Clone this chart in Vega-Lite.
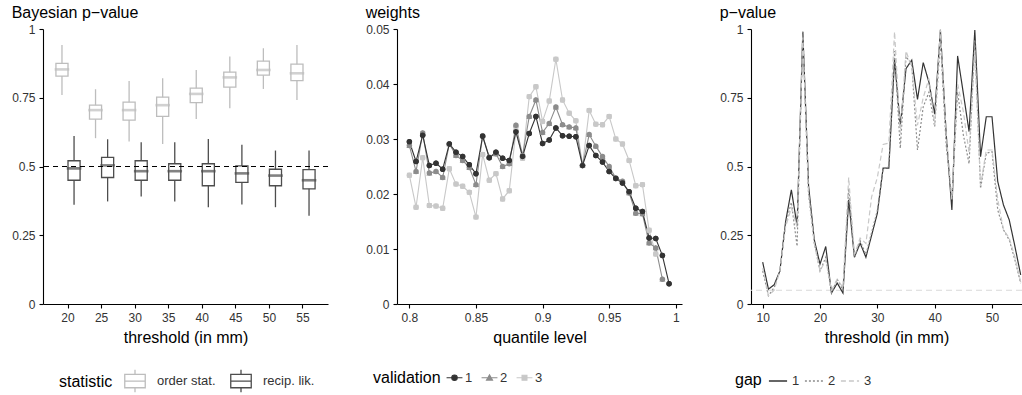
{
  "$schema": "https://vega.github.io/schema/vega-lite/v6.json",
  "padding": {"left": 11, "top": 5, "right": 0, "bottom": 0},
  "bounds": "flush",
  "spacing": 69,
  "config": {
    "view": {"stroke": null},
    "font": "Liberation Sans",
    "axis": {"grid": false, "domainColor": "black", "domainWidth": 1.1, "tickColor": "black", "tickWidth": 1.1, "tickSize": 4, "labelColor": "#333333", "labelFontSize": 12, "labelPadding": 4, "titleFontSize": 16, "titleFontWeight": "normal", "titleColor": "black", "titlePadding": 6},
    "title": {"anchor": "start", "fontSize": 16, "fontWeight": "normal", "color": "black", "offset": 2},
    "legend": {"orient": "none", "direction": "horizontal", "titleOrient": "left", "titleFontSize": 16, "titleFontWeight": "normal", "titleColor": "black", "labelFontSize": 13, "labelColor": "#333333", "titlePadding": 6, "columnPadding": 10, "labelOffset": 6}
  },
  "hconcat": [
    {
      "title": "Bayesian p−value",
      "width": 285,
      "height": 275,
      "layer": [
        {
          "data": {"values": [
            {"threshold": 20, "stat": "order stat.", "lo": 0.760, "q1": 0.829, "med": 0.853, "q3": 0.875, "hi": 0.942},
            {"threshold": 25, "stat": "order stat.", "lo": 0.603, "q1": 0.672, "med": 0.705, "q3": 0.723, "hi": 0.781},
            {"threshold": 30, "stat": "order stat.", "lo": 0.591, "q1": 0.669, "med": 0.705, "q3": 0.734, "hi": 0.811},
            {"threshold": 35, "stat": "order stat.", "lo": 0.582, "q1": 0.682, "med": 0.723, "q3": 0.752, "hi": 0.821},
            {"threshold": 40, "stat": "order stat.", "lo": 0.673, "q1": 0.732, "med": 0.764, "q3": 0.785, "hi": 0.851},
            {"threshold": 45, "stat": "order stat.", "lo": 0.712, "q1": 0.789, "med": 0.824, "q3": 0.843, "hi": 0.900},
            {"threshold": 50, "stat": "order stat.", "lo": 0.782, "q1": 0.832, "med": 0.851, "q3": 0.883, "hi": 0.930},
            {"threshold": 55, "stat": "order stat.", "lo": 0.742, "q1": 0.812, "med": 0.839, "q3": 0.872, "hi": 0.942},
            {"threshold": 20, "stat": "recip. lik.", "lo": 0.361, "q1": 0.450, "med": 0.493, "q3": 0.521, "hi": 0.611},
            {"threshold": 25, "stat": "recip. lik.", "lo": 0.373, "q1": 0.460, "med": 0.504, "q3": 0.533, "hi": 0.599},
            {"threshold": 30, "stat": "recip. lik.", "lo": 0.391, "q1": 0.450, "med": 0.483, "q3": 0.521, "hi": 0.588},
            {"threshold": 35, "stat": "recip. lik.", "lo": 0.373, "q1": 0.450, "med": 0.483, "q3": 0.510, "hi": 0.588},
            {"threshold": 40, "stat": "recip. lik.", "lo": 0.352, "q1": 0.430, "med": 0.483, "q3": 0.510, "hi": 0.600},
            {"threshold": 45, "stat": "recip. lik.", "lo": 0.362, "q1": 0.442, "med": 0.475, "q3": 0.502, "hi": 0.579},
            {"threshold": 50, "stat": "recip. lik.", "lo": 0.352, "q1": 0.430, "med": 0.467, "q3": 0.490, "hi": 0.558},
            {"threshold": 55, "stat": "recip. lik.", "lo": 0.321, "q1": 0.419, "med": 0.450, "q3": 0.489, "hi": 0.558}
          ]},
          "encoding": {
            "x": {"field": "threshold", "type": "ordinal", "scale": {"paddingInner": 0.28, "paddingOuter": 0.385}, "axis": {"labelAngle": 0, "title": "threshold (in mm)"}},
            "xOffset": {"field": "stat", "type": "nominal", "scale": {"domain": ["order stat.", "recip. lik."], "paddingInner": 0, "paddingOuter": 0}},
            "color": {"field": "stat", "type": "nominal", "scale": {"domain": ["order stat.", "recip. lik."], "range": ["#BDBDBD", "#4D4D4D"]},
              "legend": {"title": "statistic", "legendX": 16, "legendY": 341, "titlePadding": 11, "labelOffset": 11, "columnPadding": 12, "symbolSize": 420, "symbolType": "M-1,-0.65H1V0.65H-1ZM-1,0H1M0,-0.65V-1.1M0,0.65V1.1", "symbolStrokeWidth": 1.3, "symbolFillColor": "transparent",
                "encode": {"symbols": {"update": {"fill": {"value": "transparent"}, "stroke": {"signal": "datum.value == 'order stat.' ? '#BDBDBD' : '#4D4D4D'"}, "strokeWidth": {"value": 1.3}}}}}}
          },
          "layer": [
            {"mark": {"type": "bar", "filled": false, "strokeWidth": 1.3}, "encoding": {"y": {"field": "q1", "type": "quantitative", "scale": {"domain": [0, 1], "nice": false}, "axis": {"title": null, "values": [0, 0.25, 0.5, 0.75, 1], "format": ".2~f"}}, "y2": {"field": "q3"}}},
            {"mark": {"type": "rule", "strokeWidth": 1.3}, "encoding": {"y": {"field": "lo", "type": "quantitative"}, "y2": {"field": "q1"}}},
            {"mark": {"type": "rule", "strokeWidth": 1.3}, "encoding": {"y": {"field": "q3", "type": "quantitative"}, "y2": {"field": "hi"}}},
            {"mark": {"type": "tick", "filled": false, "thickness": 0.01, "strokeWidth": 2.6, "size": 12}, "encoding": {"y": {"field": "med", "type": "quantitative"}}}
          ]
        },
        {
          "data": {"values": [{"ref": 0.5}]},
          "mark": {"type": "rule", "color": "black", "strokeDash": [5, 4], "strokeWidth": 1.1},
          "encoding": {"y": {"field": "ref", "type": "quantitative"}}
        }
      ]
    },
    {
      "title": "weights",
      "width": 285,
      "height": 275,
      "data": {"values": [
        {"q": 0.800, "a": 0.0295, "b": 0.0288, "c": 0.0234},
        {"q": 0.805, "a": 0.0259, "b": 0.0241, "c": 0.0176},
        {"q": 0.810, "a": 0.0307, "b": 0.0311, "c": 0.0266},
        {"q": 0.815, "a": 0.0252, "b": 0.0238, "c": 0.0179},
        {"q": 0.820, "a": 0.0256, "b": 0.0241, "c": 0.0178},
        {"q": 0.825, "a": 0.0245, "b": 0.0230, "c": 0.0174},
        {"q": 0.830, "a": 0.0291, "b": 0.0291, "c": 0.0246},
        {"q": 0.835, "a": 0.0276, "b": 0.0270, "c": 0.0218},
        {"q": 0.840, "a": 0.0268, "b": 0.0261, "c": 0.0214},
        {"q": 0.845, "a": 0.0253, "b": 0.0248, "c": 0.0203},
        {"q": 0.850, "a": 0.0237, "b": 0.0217, "c": 0.0158},
        {"q": 0.855, "a": 0.0305, "b": 0.0306, "c": 0.0272},
        {"q": 0.860, "a": 0.0266, "b": 0.0267, "c": 0.0225},
        {"q": 0.865, "a": 0.0276, "b": 0.0273, "c": 0.0237},
        {"q": 0.870, "a": 0.0265, "b": 0.0250, "c": 0.0191},
        {"q": 0.875, "a": 0.0261, "b": 0.0255, "c": 0.0206},
        {"q": 0.880, "a": 0.0313, "b": 0.0325, "c": 0.0315},
        {"q": 0.885, "a": 0.0268, "b": 0.0270, "c": 0.0265},
        {"q": 0.890, "a": 0.0310, "b": 0.0341, "c": 0.0377},
        {"q": 0.895, "a": 0.0341, "b": 0.0371, "c": 0.0395},
        {"q": 0.900, "a": 0.0292, "b": 0.0312, "c": 0.0332},
        {"q": 0.905, "a": 0.0298, "b": 0.0328, "c": 0.0369},
        {"q": 0.910, "a": 0.0320, "b": 0.0358, "c": 0.0445},
        {"q": 0.915, "a": 0.0306, "b": 0.0326, "c": 0.0371},
        {"q": 0.920, "a": 0.0305, "b": 0.0322, "c": 0.0347},
        {"q": 0.925, "a": 0.0304, "b": 0.0320, "c": 0.0333},
        {"q": 0.930, "a": 0.0252, "b": 0.0252, "c": 0.0252},
        {"q": 0.935, "a": 0.0288, "b": 0.0308, "c": 0.0352},
        {"q": 0.940, "a": 0.0270, "b": 0.0287, "c": 0.0327},
        {"q": 0.945, "a": 0.0258, "b": 0.0268, "c": 0.0326},
        {"q": 0.950, "a": 0.0241, "b": 0.0250, "c": 0.0341},
        {"q": 0.955, "a": 0.0228, "b": 0.0229, "c": 0.0300},
        {"q": 0.960, "a": 0.0220, "b": 0.0223, "c": 0.0291},
        {"q": 0.965, "a": 0.0204, "b": 0.0202, "c": 0.0261},
        {"q": 0.970, "a": 0.0174, "b": 0.0165, "c": 0.0215},
        {"q": 0.975, "a": 0.0168, "b": 0.0164, "c": 0.0217},
        {"q": 0.980, "a": 0.0120, "b": 0.0111, "c": 0.0134},
        {"q": 0.985, "a": 0.0119, "b": 0.0102, "c": 0.0091},
        {"q": 0.990, "a": 0.0088, "b": 0.0045},
        {"q": 0.995, "a": 0.0037}
      ]},
      "transform": [
        {"fold": ["c", "b", "a"], "as": ["series", "w"]},
        {"filter": "isValid(datum.w)"},
        {"lookup": "series", "from": {"data": {"values": [{"series": "a", "validation": "1"}, {"series": "b", "validation": "2"}, {"series": "c", "validation": "3"}]}, "key": "series", "fields": ["validation"]}}
      ],
      "encoding": {
        "x": {"field": "q", "type": "quantitative", "scale": {"domain": [0.7907, 1.0047], "nice": false, "zero": false}, "axis": {"title": "quantile level", "values": [0.8, 0.85, 0.9, 0.95, 1], "format": ".2~f"}},
        "y": {"field": "w", "type": "quantitative", "scale": {"domain": [0, 0.05], "nice": false}, "axis": {"title": null, "values": [0, 0.01, 0.02, 0.03, 0.04, 0.05], "format": ".2~f"}},
        "color": {"field": "validation", "type": "nominal", "scale": {"domain": ["1", "2", "3"], "range": ["#333333", "#8C8C8C", "#C8C8C8"]}, "legend": {"title": "validation", "legendX": -24, "legendY": 342, "titlePadding": 7, "labelOffset": 4, "columnPadding": 6, "symbolSize": 30,
          "encode": {"symbols": {"update": {"stroke": {"signal": "datum.value == '1' ? '#333333' : datum.value == '2' ? '#8C8C8C' : '#C8C8C8'"}, "strokeWidth": {"value": 1.1}}}}}},
        "shape": {"field": "validation", "type": "nominal", "scale": {"domain": ["1", "2", "3"], "range": ["M-2.9,0H2.9M1,0A1,1,0,1,1,-1,0A1,1,0,1,1,1,0Z", "M-2.9,0H2.9M0,-1.05L1.1,0.85L-1.1,0.85Z", "M-2.9,0H2.9M-0.9,-0.9H0.9V0.9H-0.9Z"]}, "legend": {"title": "validation", "legendX": -24, "legendY": 342}},
        "detail": {"field": "validation"}
      },
      "layer": [
        {"mark": {"type": "line", "strokeWidth": 1.1}, "encoding": {"shape": {"value": null}}},
        {"mark": {"type": "point", "filled": true, "size": 30, "strokeWidth": 0, "opacity": 1}}
      ]
    },
    {
      "title": "p−value",
      "width": 271,
      "height": 275,
      "layer": [
        {
          "data": {"values": [{"ref": 0.05}]},
          "mark": {"type": "rule", "color": "#D9D9D9", "strokeDash": [6, 4], "strokeWidth": 1.1},
          "encoding": {"y": {"field": "ref", "type": "quantitative"}}
        },
        {
          "data": {"values": [
            {"t": 10, "g1": 0.152, "g2": 0.12, "g3": 0.13},
            {"t": 11, "g1": 0.054, "g2": 0.03, "g3": 0.03},
            {"t": 12, "g1": 0.070, "g2": 0.06, "g3": 0.05},
            {"t": 13, "g1": 0.12, "g2": 0.12, "g3": 0.12},
            {"t": 14, "g1": 0.30, "g2": 0.29, "g3": 0.28},
            {"t": 15, "g1": 0.415, "g2": 0.37, "g3": 0.35},
            {"t": 16, "g1": 0.285, "g2": 0.21, "g3": 0.28},
            {"t": 17, "g1": 0.99, "g2": 0.99, "g3": 0.97},
            {"t": 18, "g1": 0.43, "g2": 0.40, "g3": 0.40},
            {"t": 19, "g1": 0.233, "g2": 0.22, "g3": 0.22},
            {"t": 20, "g1": 0.145, "g2": 0.12, "g3": 0.12},
            {"t": 21, "g1": 0.209, "g2": 0.17, "g3": 0.16},
            {"t": 22, "g1": 0.04, "g2": 0.04, "g3": 0.05},
            {"t": 23, "g1": 0.076, "g2": 0.09, "g3": 0.09},
            {"t": 24, "g1": 0.04, "g2": 0.05, "g3": 0.06},
            {"t": 25, "g1": 0.379, "g2": 0.42, "g3": 0.46},
            {"t": 26, "g1": 0.17, "g2": 0.17, "g3": 0.18},
            {"t": 27, "g1": 0.221, "g2": 0.23, "g3": 0.24},
            {"t": 28, "g1": 0.17, "g2": 0.18, "g3": 0.22},
            {"t": 29, "g1": 0.25, "g2": 0.26, "g3": 0.39},
            {"t": 30, "g1": 0.33, "g2": 0.34, "g3": 0.46},
            {"t": 31, "g1": 0.494, "g2": 0.49, "g3": 0.58},
            {"t": 32, "g1": 0.494, "g2": 0.50, "g3": 0.585},
            {"t": 33, "g1": 0.89, "g2": 0.92, "g3": 0.99},
            {"t": 34, "g1": 0.648, "g2": 0.566, "g3": 0.62},
            {"t": 35, "g1": 0.856, "g2": 0.90, "g3": 0.92},
            {"t": 36, "g1": 0.887, "g2": 0.87, "g3": 0.86},
            {"t": 37, "g1": 0.744, "g2": 0.56, "g3": 0.65},
            {"t": 38, "g1": 0.878, "g2": 0.717, "g3": 0.75},
            {"t": 39, "g1": 0.806, "g2": 0.77, "g3": 0.82},
            {"t": 40, "g1": 0.69, "g2": 0.645, "g3": 0.65},
            {"t": 41, "g1": 0.996, "g2": 0.96, "g3": 1.0},
            {"t": 42, "g1": 0.62, "g2": 0.58, "g3": 0.62},
            {"t": 43, "g1": 0.342, "g2": 0.38, "g3": 0.38},
            {"t": 44, "g1": 0.902, "g2": 0.77, "g3": 0.80},
            {"t": 45, "g1": 0.766, "g2": 0.615, "g3": 0.70},
            {"t": 46, "g1": 0.627, "g2": 0.51, "g3": 0.55},
            {"t": 47, "g1": 0.996, "g2": 0.96, "g3": 0.92},
            {"t": 48, "g1": 0.536, "g2": 0.42, "g3": 0.43},
            {"t": 49, "g1": 0.681, "g2": 0.548, "g3": 0.56},
            {"t": 50, "g1": 0.681, "g2": 0.554, "g3": 0.56},
            {"t": 51, "g1": 0.445, "g2": 0.342, "g3": 0.38},
            {"t": 52, "g1": 0.36, "g2": 0.27, "g3": 0.27},
            {"t": 53, "g1": 0.306, "g2": 0.233, "g3": 0.24},
            {"t": 54, "g1": 0.209, "g2": 0.16, "g3": 0.17},
            {"t": 55, "g1": 0.106, "g2": 0.076, "g3": 0.08}
          ]},
          "transform": [
            {"fold": ["g1", "g2", "g3"], "as": ["series", "p"]},
            {"lookup": "series", "from": {"data": {"values": [{"series": "g1", "gap": "1"}, {"series": "g2", "gap": "2"}, {"series": "g3", "gap": "3"}]}, "key": "series", "fields": ["gap"]}}
          ],
          "mark": {"type": "line", "strokeWidth": 1.2},
          "encoding": {
            "x": {"field": "t", "type": "quantitative", "scale": {"domain": [7.96, 55.23], "nice": false, "zero": false}, "axis": {"title": "threshold (in mm)", "values": [10, 20, 30, 40, 50]}},
            "y": {"field": "p", "type": "quantitative", "scale": {"domain": [0, 1], "nice": false}, "axis": {"title": null, "values": [0, 0.25, 0.5, 0.75, 1], "format": ".2~f"}},
            "color": {"field": "gap", "type": "nominal", "scale": {"domain": ["1", "2", "3"], "range": ["#333333", "#8C8C8C", "#C8C8C8"]}, "legend": {"title": "gap", "legendX": -16, "legendY": 342, "titlePadding": 6, "labelOffset": 4, "columnPadding": 2, "symbolType": "stroke", "symbolSize": 330, "symbolStrokeWidth": 1.3}},
            "strokeDash": {"field": "gap", "type": "nominal", "scale": {"domain": ["1", "2", "3"], "range": [[1, 0], [2, 2], [5, 3]]}, "legend": {"title": "gap", "legendX": -16, "legendY": 342, "titlePadding": 6, "labelOffset": 4, "columnPadding": 2, "symbolType": "stroke", "symbolSize": 330, "symbolStrokeWidth": 1.3}}
          }
        }
      ]
    }
  ],
  "resolve": {"scale": {"color": "independent", "shape": "independent", "strokeDash": "independent", "x": "independent", "y": "independent", "xOffset": "independent"}, "legend": {"color": "independent", "shape": "independent", "strokeDash": "independent"}}
}
